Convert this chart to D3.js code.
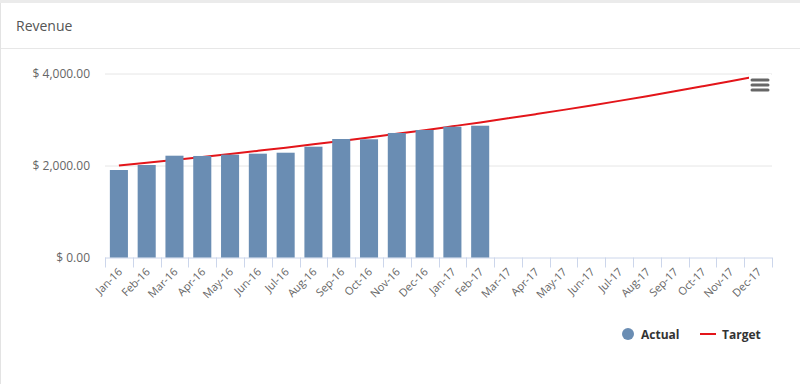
<!DOCTYPE html>
<html>
<head>
<meta charset="utf-8">
<script src="https://cdn.jsdelivr.net/npm/d3@7"></script>
<style>
  html, body { margin: 0; padding: 0; background: #fff; }
  body { width: 800px; height: 384px; overflow: hidden; font-family: "Open Sans", "Lucida Grande", Arial, sans-serif; }
  .tick text { font-family: "Open Sans", Arial, sans-serif; }
</style>
</head>
<body>
<div id="canvas"></div>
<script>
// DATA
const months = ["Jan-16","Feb-16","Mar-16","Apr-16","May-16","Jun-16","Jul-16","Aug-16","Sep-16","Oct-16","Nov-16","Dec-16",
  "Jan-17","Feb-17","Mar-17","Apr-17","May-17","Jun-17","Jul-17","Aug-17","Sep-17","Oct-17","Nov-17","Dec-17"];
const actual = [1902, 2011, 2213, 2207, 2235, 2257, 2278, 2409, 2576, 2570, 2707, 2772, 2843, 2865];
const target = [2000, 2060, 2122, 2185, 2251, 2319, 2388, 2460, 2534, 2610, 2688, 2768,
  2852, 2937, 3025, 3116, 3209, 3306, 3405, 3507, 3612, 3721, 3832, 3947];
const yTicks = [0, 2000, 4000];

// DIMENSIONS
const width = 800;
const height = 384;
const margin = { top: 73.5, left: 105, right: 28, bottom: 126.5 };
const plot_width = width - margin.left - margin.right;
const plot_height = height - margin.top - margin.bottom;

const svg = d3.select("#canvas").append("svg")
  .attr("width", width).attr("height", height);

// PANEL
svg.append("rect").attr("x", 0).attr("y", 0).attr("width", width).attr("height", 3).attr("fill", "#ebebeb");
svg.append("rect").attr("x", 0).attr("y", 3).attr("width", 1).attr("height", height - 3).attr("fill", "#e3e3e3");
svg.append("line").attr("x1", 1).attr("x2", width).attr("y1", 48.5).attr("y2", 48.5)
  .attr("stroke", "#e7e7e7");
svg.append("text").attr("x", 16).attr("y", 31)
  .attr("font-size", 14).attr("fill", "#555").text("Revenue");

const plot = svg.append("g").attr("transform", `translate(${margin.left}, ${margin.top})`);

// SCALES
const xScale = d3.scaleBand().domain(months).range([0, plot_width]).paddingInner(0.35).paddingOuter(0.175);
const yScale = d3.scaleLinear().domain([0, 4000]).range([plot_height, 0]);
const step = xScale.step();

// GRID
plot.append("g").selectAll("line").data(yTicks.filter(d => d > 0)).join("line")
  .attr("x1", 0).attr("x2", plot_width)
  .attr("y1", d => Math.round(yScale(d)) + 0.5).attr("y2", d => Math.round(yScale(d)) + 0.5)
  .attr("stroke", "#e6e6e6");

// Y AXIS
const fmt = d3.format(",.2f");
const yAx = d3.axisLeft(yScale).tickValues(yTicks).tickSize(0).tickPadding(15)
  .tickFormat(d => "$ " + fmt(d));
const yAxisHolder = plot.append("g").call(yAx);
yAxisHolder.select(".domain").remove();
yAxisHolder.selectAll("text").attr("font-size", 12).attr("fill", "#666");

// X AXIS
const xAxisHolder = plot.append("g").attr("transform", `translate(0, ${plot_height})`);
xAxisHolder.append("line").attr("x1", 0).attr("x2", plot_width).attr("y1", 0.5).attr("y2", 0.5)
  .attr("stroke", "#ccd6eb");
xAxisHolder.selectAll(".xtick").data(d3.range(months.length + 1)).join("line")
  .attr("class", "xtick")
  .attr("x1", i => Math.round(i * step) + 0.5).attr("x2", i => Math.round(i * step) + 0.5)
  .attr("y1", 0).attr("y2", 10).attr("stroke", "#ccd6eb");
xAxisHolder.selectAll(".xlab").data(months).join("text")
  .attr("class", "xlab")
  .attr("text-anchor", "end")
  .attr("font-size", 11).attr("fill", "#666")
  .attr("transform", d => `translate(${xScale(d) + xScale.bandwidth() / 2 + 4}, 15) rotate(-45)`)
  .text(d => d);

// TARGET LINE (behind bars)
const line = d3.line()
  .x((d, i) => xScale(months[i]) + xScale.bandwidth() / 2)
  .y(d => yScale(d))
  .curve(d3.curveMonotoneX);
plot.append("path").datum(target)
  .attr("d", line).attr("fill", "none")
  .attr("stroke", "#e3151a").attr("stroke-width", 2);

// BARS
plot.append("g").selectAll("rect").data(actual).join("rect")
  .attr("x", (d, i) => xScale(months[i]))
  .attr("y", d => yScale(d))
  .attr("width", xScale.bandwidth())
  .attr("height", d => plot_height - yScale(d))
  .attr("fill", "#6a8db3");

// MENU BUTTON
const btn = svg.append("g").attr("transform", "translate(749, 74)");
btn.append("rect").attr("width", 22).attr("height", 22).attr("fill", "#fff");
[0, 5, 10].forEach(dy => {
  btn.append("line").attr("x1", 3).attr("x2", 19).attr("y1", 6 + dy).attr("y2", 6 + dy)
    .attr("stroke", "#666").attr("stroke-width", 3).attr("stroke-linecap", "round");
});

// LEGEND
const legend = svg.append("g").attr("font-size", 12).attr("font-weight", "bold").attr("fill", "#333");
legend.append("circle").attr("cx", 628).attr("cy", 334).attr("r", 6).attr("fill", "#6a8db3");
legend.append("text").attr("x", 641).attr("y", 338.5).text("Actual");
legend.append("line").attr("x1", 700).attr("x2", 716).attr("y1", 334).attr("y2", 334)
  .attr("stroke", "#e3151a").attr("stroke-width", 2);
legend.append("text").attr("x", 722).attr("y", 338.5).text("Target");
</script>
</body>
</html>
